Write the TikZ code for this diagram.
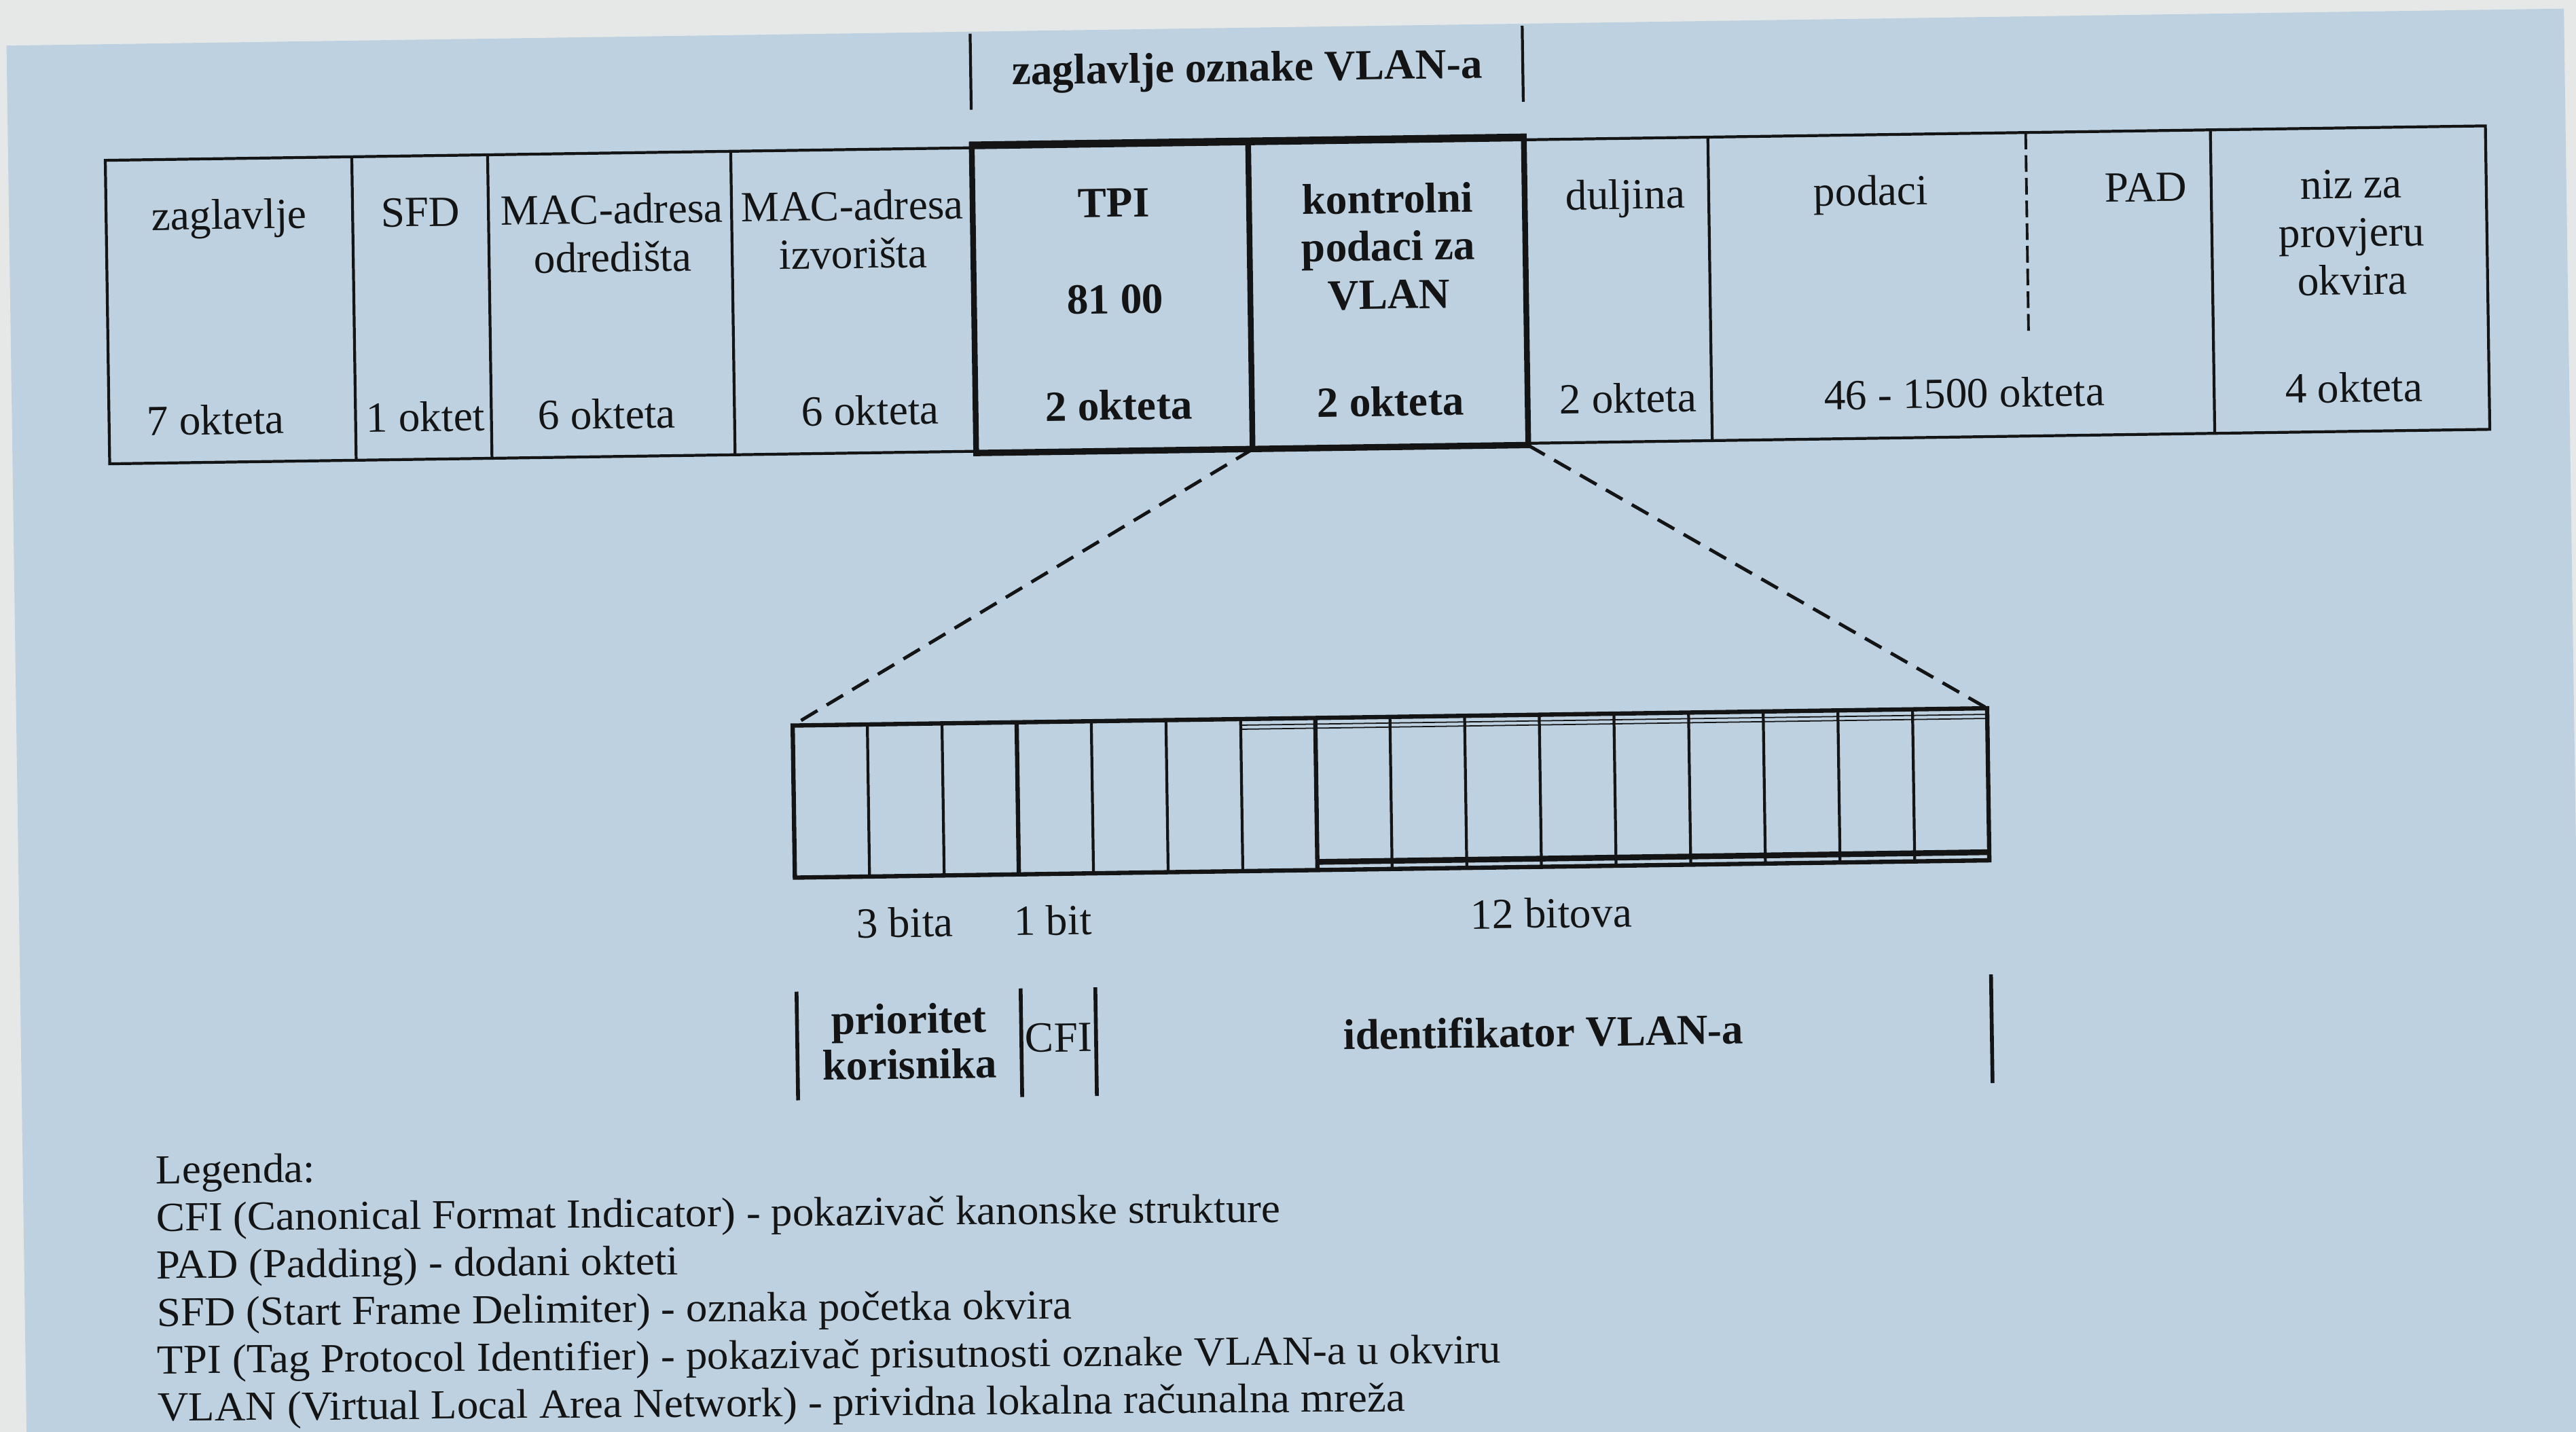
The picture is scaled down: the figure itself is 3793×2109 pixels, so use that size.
\documentclass[tikz,border=0pt]{standalone}
\usepackage{fontspec}
\setmainfont{Liberation Serif}
\newfontfamily\legendfont{Liberation Serif}[FakeStretch=1.037]
\definecolor{ink}{HTML}{141414}
\definecolor{bluebg}{HTML}{BED1E1}
\definecolor{paper}{HTML}{E5E8E7}
\begin{document}
\begin{tikzpicture}[x=0.01cm,y=-0.01cm,
  txt/.style={inner sep=0pt, anchor=base, text=ink, font=\fontsize{18}{20}\selectfont},
  btxt/.style={txt, font=\fontsize{18}{20}\selectfont\bfseries},
  ltxt/.style={inner sep=0pt, anchor=base west, text=ink, font=\legendfont\fontsize{17.3}{19}\selectfont},
  frameline/.style={draw=ink, line width=1.2pt},
  thickline/.style={draw=ink, line width=2.4pt},
  bitouter/.style={draw=ink, line width=1.8pt},
  bitdiv/.style={draw=ink, line width=1.2pt},
  dashline/.style={draw=ink, line width=1.4pt, dash pattern=on 8pt off 4.5pt},
  pdash/.style={draw=ink, line width=1.1pt, dash pattern=on 7pt off 2.5pt}]
\useasboundingbox (0,0) rectangle (3793,2109);
\fill[paper] (0,0) rectangle (3793,2109);
\begin{scope}[rotate around={0.83:(1896,1054)}, transform shape]
  \fill[bluebg] (24,40) rectangle (3790,2140);
  % title of the VLAN tag
  \draw[frameline] (1443,43) -- (1443,155);
  \draw[frameline] (2256,43) -- (2256,155);
  \node[btxt] (title) at (1850,119) {zaglavlje oznake VLAN-a};
  % main frame
  \draw[frameline] (167,211) rectangle (3672,658);
  \foreach \x in {530,730,1088,2527,3267} \draw[frameline] (\x,211) -- (\x,658);
  \draw[pdash] (2995,211) -- (2995,510);
  \draw[thickline] (1443,206) rectangle (2256,661);
  \draw[thickline] (1850,206) -- (1850,661);
  \coordinate (kbl) at (1850,661);
  \coordinate (kbr) at (2256,661);
  % frame texts
  \node[txt] (t1) at (348,315) {zaglavlje};
  \node[txt] (t1b) at (324,617) {7 okteta};
  \node[txt] (t2) at (630,315) {SFD};
  \node[txt] (t2b) at (633,617) {1 oktet};
  \node[txt] (t3) at (912,315) {MAC-adresa};
  \node[txt] (t3a) at (912,386) {odredišta};
  \node[txt] (t3b) at (900,617) {6 okteta};
  \node[txt] (t4) at (1266,315) {MAC-adresa};
  \node[txt] (t4a) at (1266,386) {izvorišta};
  \node[txt] (t4b) at (1288,617) {6 okteta};
  \node[btxt] (t5) at (1651,316) {TPI};
  \node[btxt] (t5a) at (1651,458) {81 00};
  \node[btxt] (t5b) at (1654,615) {2 okteta};
  \node[btxt] (t6) at (2054,316) {kontrolni};
  \node[btxt] (t6a) at (2054,386) {podaci za};
  \node[btxt] (t6c) at (2054,457) {VLAN};
  \node[btxt] (t6b) at (2054,615) {2 okteta};
  \node[txt] (t7) at (2404,315) {duljina};
  \node[txt] (t7b) at (2404,615) {2 okteta};
  \node[txt] (t8) at (2766,315) {podaci};
  \node[txt] (t9) at (3171,315) {PAD};
  \node[txt] (t8b) at (2899,615) {46 - 1500 okteta};
  \node[txt] (t10) at (3473,315) {niz za};
  \node[txt] (t10a) at (3473,386) {provjeru};
  \node[txt] (t10c) at (3473,457) {okvira};
  \node[txt] (t10b) at (3473,615) {4 okteta};
  % bit field
  \coordinate (bbl) at (1167,1058);
  \coordinate (bbr) at (2926,1058);
  \draw[bitouter] (1167,1058) rectangle (2926,1282);
  \foreach \i in {1,2,4,5,6,8,9,10,11,12,13,14,15}
    \draw[bitdiv] ({1167+\i*109.94},1058) -- ({1167+\i*109.94},1282);
  \draw[bitouter] ({1167+3*109.94},1058) -- ({1167+3*109.94},1282);
  \draw[bitouter] ({1167+7*109.94},1058) -- ({1167+7*109.94},1282);
  \draw[draw=ink, line width=2.4pt] ({1167+7*109.94},1270) -- (2926,1270);
  \draw[draw=ink, line width=0.5pt] ({1167+6*109.94},1067) -- (2926,1067);
  \draw[draw=ink, line width=0.5pt] ({1167+6*109.94},1073) -- (2926,1073);
  \draw[dashline] (kbl) -- (bbl);
  \draw[dashline] (kbr) -- (bbr);
  \node[txt] (b1) at (1328,1372) {3 bita};
  \node[txt] (b2) at (1546,1372) {1 bit};
  \node[txt] (b3) at (2280,1372) {12 bitova};
  \foreach \x in {1167,1497,1607,2926} \draw[draw=ink, line width=1.6pt] (\x,1450) -- (\x,1610);
  \node[btxt] (f1) at (1332,1514) {prioritet};
  \node[btxt] (f1a) at (1332,1581) {korisnika};
  \node[txt] (f2) at (1552,1544) {CFI};
  \node[btxt] (f3) at (2266,1547) {identifikator VLAN-a};
\end{scope}
\begin{scope}[rotate around={0.45:(230,1900)}, transform shape]
  \node[ltxt] (l0) at (230,1743) {Legenda:};
  \node[ltxt] (l1) at (230,1813) {CFI (Canonical Format Indicator) - pokazivač kanonske strukture};
  \node[ltxt] (l2) at (230,1883) {PAD (Padding) - dodani okteti};
  \node[ltxt] (l3) at (230,1953) {SFD (Start Frame Delimiter) - oznaka početka okvira};
  \node[ltxt] (l4) at (230,2023) {TPI (Tag Protocol Identifier) - pokazivač prisutnosti oznake VLAN-a u okviru};
  \node[ltxt] (l5) at (230,2093) {VLAN (Virtual Local Area Network) - prividna lokalna računalna mreža};
\end{scope}
\end{tikzpicture}
\end{document}
